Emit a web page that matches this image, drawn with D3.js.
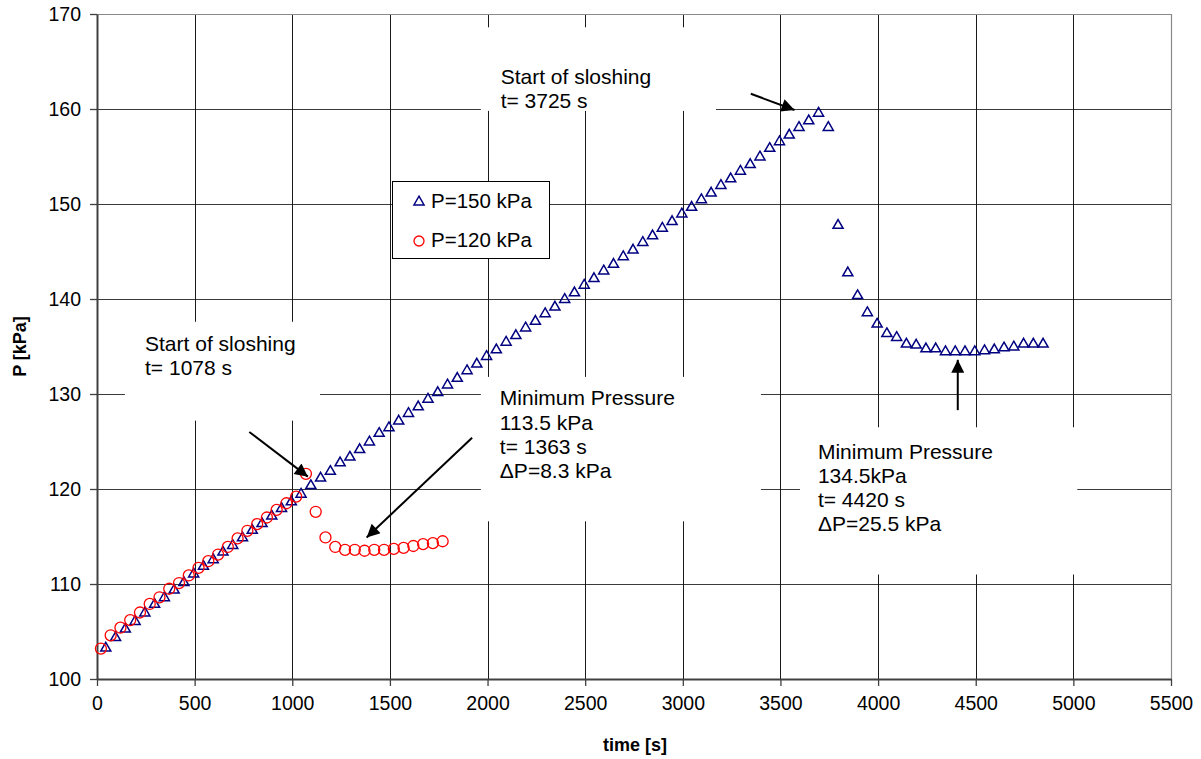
<!DOCTYPE html>
<html>
<head>
<meta charset="utf-8">
<script src="https://cdn.jsdelivr.net/npm/d3@7"></script>
<style>
  html, body { margin: 0; padding: 0; background: #fff; }
  svg { display: block; font-family: "Liberation Sans", Arial, sans-serif; }
</style>
</head>
<body>
<svg id="chart" width="1201" height="759"></svg>
<script>
// Tank pressure during self-pressurisation and sloshing, two initial pressures
const timeHigh = [
  45, 95, 145, 195, 245, 295, 345, 395, 445, 495,
  545, 595, 645, 695, 745, 795, 845, 895, 945, 995, 1045,
  1095, 1145, 1195, 1245, 1295, 1345, 1395, 1445, 1495, 1545, 1595, 1645,
  1695, 1745, 1795, 1845, 1895, 1945, 1995, 2045, 2095, 2145, 2195, 2245,
  2295, 2345, 2395, 2445, 2495, 2545, 2595, 2645, 2695, 2745, 2795, 2845,
  2895, 2945, 2995, 3045, 3095, 3145, 3195, 3245, 3295, 3345, 3395,
  3445, 3495, 3545, 3595, 3645, 3695,
  3745, 3795, 3845, 3895, 3945, 3995, 4045, 4095, 4145, 4195, 4245, 4295,
  4345, 4395, 4445, 4495, 4545, 4595, 4645, 4695, 4745, 4795, 4845
];
const pressureHigh = [
  103.3, 104.4, 105.3, 106.1, 107.0, 107.9, 108.6, 109.4, 110.2, 111.1,
  111.9, 112.6, 113.4, 114.1, 114.9, 115.7, 116.4, 117.2, 118.0, 118.7, 119.5,
  120.4, 121.2, 121.9, 122.8, 123.4, 124.2, 125.0, 125.9, 126.5, 127.2, 128.0, 128.7,
  129.5, 130.2, 131.0, 131.7, 132.5, 133.2, 134.0, 134.7, 135.5, 136.2, 137.0, 137.7,
  138.5, 139.2, 140.0, 140.7, 141.5, 142.2, 143.0, 143.7, 144.5, 145.2, 146.0, 146.7,
  147.5, 148.2, 149.0, 149.7, 150.5, 151.2, 152.0, 152.7, 153.5, 154.2, 155.0,
  155.9, 156.6, 157.3, 158.1, 158.8, 159.6,
  158.1, 147.8, 142.8, 140.4, 138.6, 137.4, 136.4, 136.0, 135.3, 135.2, 134.8, 134.8,
  134.5, 134.5, 134.5, 134.5, 134.6, 134.7, 134.9, 135.0, 135.3, 135.3, 135.3
];
const timeLow = [
  20, 70, 120, 170, 220, 270, 320, 370, 420, 470, 520, 570, 620, 670, 720,
  770, 820, 870, 920, 970, 1020, 1070,
  1120, 1170, 1220, 1270, 1320, 1370, 1420, 1470, 1520, 1570, 1620, 1670, 1720, 1770
];
const pressureLow = [
  103.2, 104.6, 105.4, 106.2, 107.0, 107.9, 108.6, 109.5, 110.1, 110.9, 111.7, 112.4, 113.1, 113.9, 114.8,
  115.6, 116.3, 117.0, 117.8, 118.5, 119.2, 121.6,
  117.6, 114.9, 113.9, 113.6, 113.6, 113.5, 113.6, 113.6, 113.7, 113.8, 114.0, 114.2, 114.3, 114.5
];
const xTicks = [0, 500, 1000, 1500, 2000, 2500, 3000, 3500, 4000, 4500, 5000, 5500];
const yTicks = [100, 110, 120, 130, 140, 150, 160, 170];
const seriesNames = ["P=150 kPa", "P=120 kPa"];

// Notes: text lines, anchored in data units (time, pressure)
const noteSlosh120 = ["Start of sloshing", "t= 1078 s"];
const noteSlosh150 = ["Start of sloshing", "t= 3725 s"];
const noteMin120 = ["Minimum Pressure", "113.5 kPa", "t= 1363 s", "\u0394P=8.3 kPa"];
const noteMin150 = ["Minimum Pressure", "134.5kPa", "t= 4420 s", "\u0394P=25.5 kPa"];

// Arrows as [fromTime, fromP, toTime, toP]
const arrows = [
  [780, 126.0, 1080, 121.3],
  [1921, 125.4, 1381, 114.9],
  [3348, 161.6, 3572, 159.9],
  [4408, 128.3, 4408, 133.6]
];

const svg = d3.select("#chart");
const plotL = 97, plotR = 1171, plotT = 14, plotB = 679;

const x = d3.scaleLinear().domain([0, 5500]).range([plotL, plotR]);
const y = d3.scaleLinear().domain([100, 170]).range([plotB, plotT]);

// Grid
const grid = svg.append("g");
grid.selectAll("line.h").data(yTicks.filter(d => d > 100 && d < 170)).join("line")
  .attr("x1", plotL).attr("x2", plotR)
  .attr("y1", d => Math.round(y(d)) + 0.5).attr("y2", d => Math.round(y(d)) + 0.5)
  .attr("stroke", "#3a3a3a").attr("stroke-width", 1);
grid.selectAll("line.v").data(xTicks.filter(d => d > 0 && d < 5500)).join("line")
  .attr("x1", d => Math.round(x(d)) + 0.5).attr("x2", d => Math.round(x(d)) + 0.5)
  .attr("y1", plotT).attr("y2", plotB)
  .attr("stroke", "#1a1a1a").attr("stroke-width", 1);
// top and right border
svg.append("path")
  .attr("d", `M${plotL},${plotT + 0.5}H${plotR + 0.5}V${plotB}`)
  .attr("fill", "none").attr("stroke", "#8a8a8a").attr("stroke-width", 1.2);

// White note backgrounds cover the grid
const noteBoxes = [
  [x(143), y(137.6), x(1142), y(127.2)],
  [x(1966), y(168.6), x(3170), y(159.8)],
  [x(1966), y(131.8), x(3400), y(116.6)],
  [x(3600), y(126.5), x(5020), y(111.0)]
];
svg.append("g").selectAll("rect").data(noteBoxes).join("rect")
  .attr("x", d => d[0]).attr("y", d => d[1])
  .attr("width", d => d[2] - d[0]).attr("height", d => d[3] - d[1])
  .attr("fill", "#fff");

// Axes
const xAxis = d3.axisBottom(x).tickValues(xTicks).tickFormat(d3.format("d"))
  .tickSize(7).tickSizeOuter(0).tickPadding(10);
const yAxis = d3.axisLeft(y).tickValues(yTicks).tickFormat(d3.format("d"))
  .tickSize(7).tickSizeOuter(0).tickPadding(9);
const gx = svg.append("g").attr("transform", `translate(0,${plotB})`).call(xAxis);
const gy = svg.append("g").attr("transform", `translate(${plotL},0)`).call(yAxis);
[gx, gy].forEach(g => {
  g.select(".domain").attr("stroke", "#404040").attr("stroke-width", 2);
  g.selectAll(".tick line").attr("stroke", "#404040").attr("stroke-width", 1.3);
  g.selectAll(".tick text").attr("fill", "#000")
    .style("font-family", "'Liberation Sans', Arial, sans-serif").style("font-size", "19.5px");
});
gy.selectAll(".tick text").attr("dy", "0.35em");

// Axis titles
svg.append("text").attr("x", (plotL + plotR) / 2 + 1).attr("y", 751)
  .attr("text-anchor", "middle").attr("font-weight", "bold").attr("font-size", 18)
  .text("time [s]");
svg.append("text").attr("transform", `translate(26,${(plotT + plotB) / 2}) rotate(-90)`)
  .attr("text-anchor", "middle").attr("font-weight", "bold").attr("font-size", 18)
  .text("P [kPa]");

// Markers
const tri = d3.symbol().type(d3.symbolTriangle).size(44);
const high = timeHigh.map((t, i) => [t, pressureHigh[i]]);
const low = timeLow.map((t, i) => [t, pressureLow[i]]);

svg.append("g").selectAll("path").data(high).join("path")
  .attr("d", tri)
  .attr("transform", d => `translate(${x(d[0])},${y(d[1]) + 0.5})`)
  .attr("fill", "none").attr("stroke", "#000080").attr("stroke-width", 1.5);

svg.append("g").selectAll("circle").data(low).join("circle")
  .attr("cx", d => x(d[0])).attr("cy", d => y(d[1])).attr("r", 5.5)
  .attr("fill", "none").attr("stroke", "#ff0000").attr("stroke-width", 1.3);

// Notes
function note(lines, t, p, lh) {
  const g = svg.append("text").attr("x", x(t)).attr("y", y(p)).attr("font-size", 21).attr("fill", "#000");
  lines.forEach((s, i) => {
    g.append("tspan").attr("x", x(t)).attr("dy", i === 0 ? 0 : lh).text(s);
  });
}
note(noteSlosh120, 246, 134.5, 23.7);
note(noteSlosh150, 2067, 162.6, 23.7);
note(noteMin120, 2063, 128.8, 24.1);
note(noteMin150, 3692, 123.2, 24.1);

// Arrows
const defs = svg.append("defs");
defs.append("marker").attr("id", "head")
  .attr("viewBox", "0 0 10 10").attr("refX", 10).attr("refY", 5)
  .attr("markerWidth", 7.5).attr("markerHeight", 6.5).attr("orient", "auto")
  .attr("markerUnits", "strokeWidth")
  .append("path").attr("d", "M0,0L10,5L0,10Z").attr("fill", "#000");

svg.append("g").selectAll("line").data(arrows).join("line")
  .attr("x1", d => x(d[0])).attr("y1", d => y(d[1]))
  .attr("x2", d => x(d[2])).attr("y2", d => y(d[3]))
  .attr("stroke", "#000").attr("stroke-width", 2)
  .attr("marker-end", "url(#head)");

// Legend
const lg = svg.append("g");
lg.append("rect").attr("x", 392.5).attr("y", 181.5).attr("width", 157).attr("height", 77)
  .attr("fill", "#fff").attr("stroke", "#000").attr("stroke-width", 1);
lg.append("path").attr("d", tri).attr("transform", "translate(419,202)")
  .attr("fill", "none").attr("stroke", "#000080").attr("stroke-width", 1.5);
lg.append("circle").attr("cx", 419).attr("cy", 241).attr("r", 5)
  .attr("fill", "none").attr("stroke", "#ff0000").attr("stroke-width", 1.3);
lg.append("text").attr("x", 431).attr("y", 207.5).attr("font-size", 20.5).text(seriesNames[0]);
lg.append("text").attr("x", 431).attr("y", 247).attr("font-size", 20.5).text(seriesNames[1]);
</script>
</body>
</html>
